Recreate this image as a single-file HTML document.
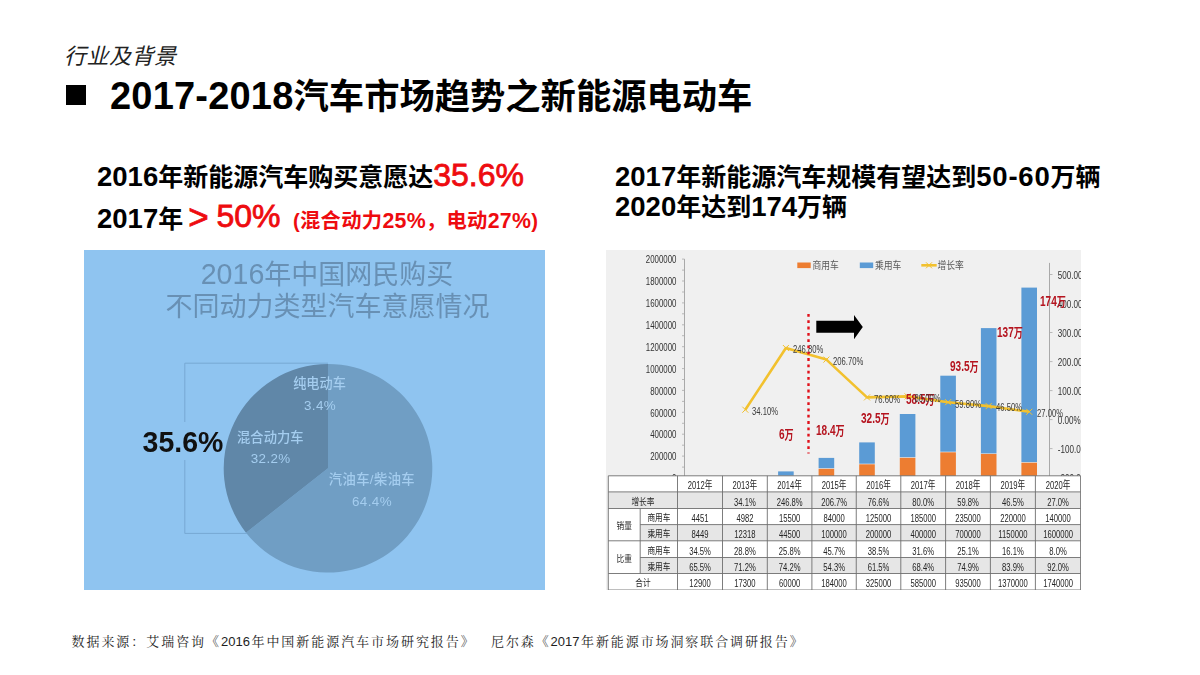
<!DOCTYPE html>
<html lang="zh-CN">
<head>
<meta charset="utf-8">
<title>2017-2018汽车市场趋势之新能源电动车</title>
<style>
html,body{margin:0;padding:0;background:#fff;}
body{width:1200px;height:675px;position:relative;overflow:hidden;font-family:"Liberation Sans","Noto Sans CJK SC",sans-serif;color:#000;}
.abs{position:absolute;white-space:nowrap;}
#sec{left:64px;top:42px;font-size:22px;font-style:italic;color:#222;line-height:30px;letter-spacing:0.5px;}
#bullet{left:66px;top:85px;width:20px;height:20px;background:#000;}
#title{left:110px;top:73px;font-size:35.3px;font-weight:bold;line-height:46px;}
#title .d{font-size:38px;letter-spacing:0.2px;}
.sub{font-size:25px;font-weight:bold;line-height:30px;}
.sub .d{font-size:27.5px;letter-spacing:0;}
.pr{font-size:20.3px;margin-left:5.5px;letter-spacing:0.3px;}
.pr .q{font-size:21.3px;}
.red{color:#ee0b0f;}
.big{font-size:32px;font-weight:normal;-webkit-text-stroke:0.8px #ee0b0f;}
#s1{left:97px;top:160px;}
#s2{left:97px;top:201.5px;}
#s3{left:615px;top:162px;}
#s4{left:615px;top:192px;}
.src{font-size:13px;color:#1e1e1e;font-family:"Liberation Sans","Noto Serif CJK SC",serif;letter-spacing:1.5px;}
.src .n{letter-spacing:0;margin-right:1.5px;}
#src{left:71.5px;top:631px;letter-spacing:1.95px;}
#src2{left:491px;top:631px;letter-spacing:1.9px;}
svg text{white-space:pre;}
#pie{left:84px;top:250px;filter:blur(0.35px);}
#chart{left:606px;top:250px;filter:blur(0.35px);}
</style>
</head>
<body>
<div class="abs" id="sec">行业及背景</div>
<div class="abs" id="bullet"></div>
<div class="abs" id="title"><span class="d">2017-2018</span>汽车市场趋势之新能源电动车</div>
<div class="abs sub" id="s1"><span class="d">2016</span>年新能源汽车购买意愿达<span class="red big">35.6%</span></div>
<div class="abs sub" id="s2"><span class="d">2017</span>年 <span class="red big" style="position:relative;top:-1px"><span style="font-size:35px;vertical-align:-2px;margin-left:-2px;margin-right:-1px">&gt;</span> 50%</span> <span class="red pr">(混合动力<span class="q">25%</span>，电动<span class="q">27%</span>)</span></div>
<div class="abs sub" id="s3"><span class="d">2017</span>年新能源汽车规模有望达到<span class="d" style="letter-spacing:0.8px">50-60</span>万辆</div>
<div class="abs sub" id="s4"><span class="d">2020</span>年达到<span class="d">174</span>万辆</div>

<svg class="abs" id="pie" width="461" height="340" viewBox="84 250 461 340">
<rect x="84" y="250" width="461" height="340" fill="#8fc4f0"/>
<text x="327" y="284" text-anchor="middle" font-size="27" fill="#6890b4" font-family="Liberation Sans, Noto Sans CJK SC, sans-serif"><tspan font-size="28.6">2016</tspan>年中国网民购买</text>
<text x="327.6" y="316" text-anchor="middle" font-size="27" fill="#6890b4" font-family="Liberation Sans, Noto Sans CJK SC, sans-serif">不同动力类型汽车意愿情况</text>
<path d="M328 468.3L328 364.0A104.3 104.3 0 1 1 245.99 532.74Z" fill="#709ec4"/>
<path d="M328 468.3L245.99 532.74A104.3 104.3 0 0 1 328 364.0Z" fill="#6087a8"/>
<path d="M247 533.4H184.8V363.2H328" fill="none" stroke="#77a8d3" stroke-width="1"/>
<rect x="140" y="422" width="84" height="38" fill="#8fc4f0"/>
<text transform="translate(142.6 452.2) scale(0.95 1)" font-size="30" font-weight="bold" fill="#111" font-family="Liberation Sans, Noto Sans CJK SC, sans-serif">35.6%</text>
<text x="319.5" y="388.0" text-anchor="middle" font-size="13.2" letter-spacing="0" font-weight="500" fill="#a4cdef" font-family="Liberation Sans, Noto Sans CJK SC, sans-serif">纯电动车</text>
<text x="320" y="409.8" text-anchor="middle" font-size="13.4" letter-spacing="0.4" font-weight="500" fill="#a4cdef" font-family="Liberation Sans, Noto Sans CJK SC, sans-serif">3.4%</text>
<text x="270.3" y="442.2" text-anchor="middle" font-size="13.3" letter-spacing="0" font-weight="500" fill="#a4cdef" font-family="Liberation Sans, Noto Sans CJK SC, sans-serif">混合动力车</text>
<text x="270.7" y="463.4" text-anchor="middle" font-size="13.4" letter-spacing="0.4" font-weight="500" fill="#a4cdef" font-family="Liberation Sans, Noto Sans CJK SC, sans-serif">32.2%</text>
<text x="371.9" y="484.1" text-anchor="middle" font-size="13.3" letter-spacing="0.4" font-weight="500" fill="#a4cdef" font-family="Liberation Sans, Noto Sans CJK SC, sans-serif">汽油车/柴油车</text>
<text x="372" y="505.8" text-anchor="middle" font-size="13.4" letter-spacing="0.4" font-weight="500" fill="#a4cdef" font-family="Liberation Sans, Noto Sans CJK SC, sans-serif">64.4%</text>
</svg>

<svg class="abs" id="chart" width="475" height="340" viewBox="606 250 475 340">
<rect x="606" y="250" width="475" height="340" fill="#f0f0f0"/>
<line x1="684.5" y1="259.1" x2="684.5" y2="478.0" stroke="#a9a9a9" stroke-width="1"/>
<line x1="682.0" y1="478.0" x2="684.5" y2="478.0" stroke="#a9a9a9" stroke-width="0.8"/>
<line x1="682.0" y1="467.1" x2="684.5" y2="467.1" stroke="#a9a9a9" stroke-width="0.8"/>
<line x1="682.0" y1="456.1" x2="684.5" y2="456.1" stroke="#a9a9a9" stroke-width="0.8"/>
<line x1="682.0" y1="445.2" x2="684.5" y2="445.2" stroke="#a9a9a9" stroke-width="0.8"/>
<line x1="682.0" y1="434.2" x2="684.5" y2="434.2" stroke="#a9a9a9" stroke-width="0.8"/>
<line x1="682.0" y1="423.3" x2="684.5" y2="423.3" stroke="#a9a9a9" stroke-width="0.8"/>
<line x1="682.0" y1="412.3" x2="684.5" y2="412.3" stroke="#a9a9a9" stroke-width="0.8"/>
<line x1="682.0" y1="401.4" x2="684.5" y2="401.4" stroke="#a9a9a9" stroke-width="0.8"/>
<line x1="682.0" y1="390.4" x2="684.5" y2="390.4" stroke="#a9a9a9" stroke-width="0.8"/>
<line x1="682.0" y1="379.5" x2="684.5" y2="379.5" stroke="#a9a9a9" stroke-width="0.8"/>
<line x1="682.0" y1="368.6" x2="684.5" y2="368.6" stroke="#a9a9a9" stroke-width="0.8"/>
<line x1="682.0" y1="357.6" x2="684.5" y2="357.6" stroke="#a9a9a9" stroke-width="0.8"/>
<line x1="682.0" y1="346.7" x2="684.5" y2="346.7" stroke="#a9a9a9" stroke-width="0.8"/>
<line x1="682.0" y1="335.7" x2="684.5" y2="335.7" stroke="#a9a9a9" stroke-width="0.8"/>
<line x1="682.0" y1="324.8" x2="684.5" y2="324.8" stroke="#a9a9a9" stroke-width="0.8"/>
<line x1="682.0" y1="313.8" x2="684.5" y2="313.8" stroke="#a9a9a9" stroke-width="0.8"/>
<line x1="682.0" y1="302.9" x2="684.5" y2="302.9" stroke="#a9a9a9" stroke-width="0.8"/>
<line x1="682.0" y1="292.0" x2="684.5" y2="292.0" stroke="#a9a9a9" stroke-width="0.8"/>
<line x1="682.0" y1="281.0" x2="684.5" y2="281.0" stroke="#a9a9a9" stroke-width="0.8"/>
<line x1="682.0" y1="270.1" x2="684.5" y2="270.1" stroke="#a9a9a9" stroke-width="0.8"/>
<line x1="682.0" y1="259.1" x2="684.5" y2="259.1" stroke="#a9a9a9" stroke-width="0.8"/>
<text transform="translate(676.5 482.2) scale(0.68 1)" text-anchor="end" font-size="11.6" fill="#333" font-weight="normal" font-family="Liberation Sans, Noto Sans CJK SC, sans-serif" >0</text>
<text transform="translate(676.5 460.3) scale(0.68 1)" text-anchor="end" font-size="11.6" fill="#333" font-weight="normal" font-family="Liberation Sans, Noto Sans CJK SC, sans-serif" >200000</text>
<text transform="translate(676.5 438.4) scale(0.68 1)" text-anchor="end" font-size="11.6" fill="#333" font-weight="normal" font-family="Liberation Sans, Noto Sans CJK SC, sans-serif" >400000</text>
<text transform="translate(676.5 416.5) scale(0.68 1)" text-anchor="end" font-size="11.6" fill="#333" font-weight="normal" font-family="Liberation Sans, Noto Sans CJK SC, sans-serif" >600000</text>
<text transform="translate(676.5 394.6) scale(0.68 1)" text-anchor="end" font-size="11.6" fill="#333" font-weight="normal" font-family="Liberation Sans, Noto Sans CJK SC, sans-serif" >800000</text>
<text transform="translate(676.5 372.7) scale(0.68 1)" text-anchor="end" font-size="11.6" fill="#333" font-weight="normal" font-family="Liberation Sans, Noto Sans CJK SC, sans-serif" >1000000</text>
<text transform="translate(676.5 350.8) scale(0.68 1)" text-anchor="end" font-size="11.6" fill="#333" font-weight="normal" font-family="Liberation Sans, Noto Sans CJK SC, sans-serif" >1200000</text>
<text transform="translate(676.5 328.9) scale(0.68 1)" text-anchor="end" font-size="11.6" fill="#333" font-weight="normal" font-family="Liberation Sans, Noto Sans CJK SC, sans-serif" >1400000</text>
<text transform="translate(676.5 307.0) scale(0.68 1)" text-anchor="end" font-size="11.6" fill="#333" font-weight="normal" font-family="Liberation Sans, Noto Sans CJK SC, sans-serif" >1600000</text>
<text transform="translate(676.5 285.2) scale(0.68 1)" text-anchor="end" font-size="11.6" fill="#333" font-weight="normal" font-family="Liberation Sans, Noto Sans CJK SC, sans-serif" >1800000</text>
<text transform="translate(676.5 263.3) scale(0.68 1)" text-anchor="end" font-size="11.6" fill="#333" font-weight="normal" font-family="Liberation Sans, Noto Sans CJK SC, sans-serif" >2000000</text>
<line x1="1049.5" y1="262.9" x2="1049.5" y2="477.6" stroke="#a9a9a9" stroke-width="1"/>
<line x1="1049.5" y1="477.6" x2="1052.5" y2="477.6" stroke="#a9a9a9" stroke-width="0.8"/>
<text transform="translate(1057.8 481.8) scale(0.7 1)" text-anchor="start" font-size="11.6" fill="#333" font-weight="normal" font-family="Liberation Sans, Noto Sans CJK SC, sans-serif" >-200.00%</text>
<line x1="1049.5" y1="448.6" x2="1052.5" y2="448.6" stroke="#a9a9a9" stroke-width="0.8"/>
<text transform="translate(1057.8 452.8) scale(0.7 1)" text-anchor="start" font-size="11.6" fill="#333" font-weight="normal" font-family="Liberation Sans, Noto Sans CJK SC, sans-serif" >-100.00%</text>
<line x1="1049.5" y1="419.6" x2="1052.5" y2="419.6" stroke="#a9a9a9" stroke-width="0.8"/>
<text transform="translate(1057.8 423.8) scale(0.7 1)" text-anchor="start" font-size="11.6" fill="#333" font-weight="normal" font-family="Liberation Sans, Noto Sans CJK SC, sans-serif" >0.00%</text>
<line x1="1049.5" y1="390.6" x2="1052.5" y2="390.6" stroke="#a9a9a9" stroke-width="0.8"/>
<text transform="translate(1057.8 394.7) scale(0.7 1)" text-anchor="start" font-size="11.6" fill="#333" font-weight="normal" font-family="Liberation Sans, Noto Sans CJK SC, sans-serif" >100.00%</text>
<line x1="1049.5" y1="361.6" x2="1052.5" y2="361.6" stroke="#a9a9a9" stroke-width="0.8"/>
<text transform="translate(1057.8 365.7) scale(0.7 1)" text-anchor="start" font-size="11.6" fill="#333" font-weight="normal" font-family="Liberation Sans, Noto Sans CJK SC, sans-serif" >200.00%</text>
<line x1="1049.5" y1="332.5" x2="1052.5" y2="332.5" stroke="#a9a9a9" stroke-width="0.8"/>
<text transform="translate(1057.8 336.7) scale(0.7 1)" text-anchor="start" font-size="11.6" fill="#333" font-weight="normal" font-family="Liberation Sans, Noto Sans CJK SC, sans-serif" >300.00%</text>
<line x1="1049.5" y1="303.5" x2="1052.5" y2="303.5" stroke="#a9a9a9" stroke-width="0.8"/>
<text transform="translate(1057.8 307.7) scale(0.7 1)" text-anchor="start" font-size="11.6" fill="#333" font-weight="normal" font-family="Liberation Sans, Noto Sans CJK SC, sans-serif" >400.00%</text>
<line x1="1049.5" y1="274.5" x2="1052.5" y2="274.5" stroke="#a9a9a9" stroke-width="0.8"/>
<text transform="translate(1057.8 278.7) scale(0.7 1)" text-anchor="start" font-size="11.6" fill="#333" font-weight="normal" font-family="Liberation Sans, Noto Sans CJK SC, sans-serif" >500.00%</text>
<rect x="697.0" y="477.5" width="15.6" height="0.5" fill="#ed7d31"/>
<rect x="697.0" y="476.6" width="15.6" height="0.3" fill="#5b9bd5"/>
<rect x="737.5" y="477.5" width="15.6" height="0.5" fill="#ed7d31"/>
<rect x="737.5" y="476.1" width="15.6" height="0.7" fill="#5b9bd5"/>
<rect x="778.1" y="476.3" width="15.6" height="1.7" fill="#ed7d31"/>
<rect x="778.1" y="471.4" width="15.6" height="4.3" fill="#5b9bd5"/>
<rect x="818.6" y="468.8" width="15.6" height="9.2" fill="#ed7d31"/>
<rect x="818.6" y="457.9" width="15.6" height="10.3" fill="#5b9bd5"/>
<rect x="859.2" y="464.3" width="15.6" height="13.7" fill="#ed7d31"/>
<rect x="859.2" y="442.4" width="15.6" height="21.3" fill="#5b9bd5"/>
<rect x="899.8" y="457.8" width="15.6" height="20.2" fill="#ed7d31"/>
<rect x="899.8" y="414.0" width="15.6" height="43.2" fill="#5b9bd5"/>
<rect x="940.3" y="452.3" width="15.6" height="25.7" fill="#ed7d31"/>
<rect x="940.3" y="375.7" width="15.6" height="76.0" fill="#5b9bd5"/>
<rect x="980.9" y="453.9" width="15.6" height="24.1" fill="#ed7d31"/>
<rect x="980.9" y="328.1" width="15.6" height="125.3" fill="#5b9bd5"/>
<rect x="1021.4" y="462.7" width="15.6" height="15.3" fill="#ed7d31"/>
<rect x="1021.4" y="287.6" width="15.6" height="174.5" fill="#5b9bd5"/>
<polyline points="745.3,409.7 785.9,348.0 826.4,359.6 867.0,397.4 907.6,396.4 948.1,402.2 988.7,406.1 1029.2,411.8" fill="none" stroke="#f2c12e" stroke-width="2.6" stroke-linejoin="round"/>
<path d="M742.3 406.7L748.3 412.7M742.3 412.7L748.3 406.7" stroke="#f2c12e" stroke-width="1"/>
<path d="M782.9 345.0L788.9 351.0M782.9 351.0L788.9 345.0" stroke="#f2c12e" stroke-width="1"/>
<path d="M823.4 356.6L829.4 362.6M823.4 362.6L829.4 356.6" stroke="#f2c12e" stroke-width="1"/>
<path d="M864.0 394.4L870.0 400.4M864.0 400.4L870.0 394.4" stroke="#f2c12e" stroke-width="1"/>
<path d="M904.6 393.4L910.6 399.4M904.6 399.4L910.6 393.4" stroke="#f2c12e" stroke-width="1"/>
<path d="M945.1 399.2L951.1 405.2M945.1 405.2L951.1 399.2" stroke="#f2c12e" stroke-width="1"/>
<path d="M985.7 403.1L991.7 409.1M985.7 409.1L991.7 403.1" stroke="#f2c12e" stroke-width="1"/>
<path d="M1026.2 408.8L1032.2 414.8M1026.2 414.8L1032.2 408.8" stroke="#f2c12e" stroke-width="1"/>
<text transform="translate(752.0 414.9) scale(0.66 1)" text-anchor="start" font-size="11.6" fill="#3a3a3a" font-weight="normal" font-family="Liberation Sans, Noto Sans CJK SC, sans-serif" >34.10%</text>
<text transform="translate(793.0 353.2) scale(0.66 1)" text-anchor="start" font-size="11.6" fill="#3a3a3a" font-weight="normal" font-family="Liberation Sans, Noto Sans CJK SC, sans-serif" >246.80%</text>
<text transform="translate(833.0 365.2) scale(0.66 1)" text-anchor="start" font-size="11.6" fill="#3a3a3a" font-weight="normal" font-family="Liberation Sans, Noto Sans CJK SC, sans-serif" >206.70%</text>
<text transform="translate(874.0 402.6) scale(0.66 1)" text-anchor="start" font-size="11.6" fill="#3a3a3a" font-weight="normal" font-family="Liberation Sans, Noto Sans CJK SC, sans-serif" >76.60%</text>
<text transform="translate(955.0 407.5) scale(0.66 1)" text-anchor="start" font-size="11.6" fill="#3a3a3a" font-weight="normal" font-family="Liberation Sans, Noto Sans CJK SC, sans-serif" >59.80%</text>
<text transform="translate(996.0 411.0) scale(0.66 1)" text-anchor="start" font-size="11.6" fill="#3a3a3a" font-weight="normal" font-family="Liberation Sans, Noto Sans CJK SC, sans-serif" >46.50%</text>
<text transform="translate(1037.0 416.8) scale(0.66 1)" text-anchor="start" font-size="11.6" fill="#3a3a3a" font-weight="normal" font-family="Liberation Sans, Noto Sans CJK SC, sans-serif" >27.00%</text>
<text transform="translate(779.0 439.4) scale(0.72 1)" text-anchor="start" font-size="14" fill="#b5141f" font-weight="bold" font-family="Liberation Sans, Noto Sans CJK SC, sans-serif" >6<tspan font-size="12.6">万</tspan></text>
<text transform="translate(816.0 435.4) scale(0.72 1)" text-anchor="start" font-size="14" fill="#b5141f" font-weight="bold" font-family="Liberation Sans, Noto Sans CJK SC, sans-serif" >18.4<tspan font-size="12.6">万</tspan></text>
<text transform="translate(861.0 422.8) scale(0.72 1)" text-anchor="start" font-size="14" fill="#b5141f" font-weight="bold" font-family="Liberation Sans, Noto Sans CJK SC, sans-serif" >32.5<tspan font-size="12.6">万</tspan></text>
<text transform="translate(906.0 403.7) scale(0.72 1)" text-anchor="start" font-size="14" fill="#b5141f" font-weight="bold" font-family="Liberation Sans, Noto Sans CJK SC, sans-serif" >58.5<tspan font-size="12.6">万</tspan></text>
<text transform="translate(950.0 371.0) scale(0.72 1)" text-anchor="start" font-size="14" fill="#b5141f" font-weight="bold" font-family="Liberation Sans, Noto Sans CJK SC, sans-serif" >93.5<tspan font-size="12.6">万</tspan></text>
<text transform="translate(997.0 336.5) scale(0.72 1)" text-anchor="start" font-size="14" fill="#b5141f" font-weight="bold" font-family="Liberation Sans, Noto Sans CJK SC, sans-serif" >137<tspan font-size="12.6">万</tspan></text>
<text transform="translate(1040.0 306.4) scale(0.72 1)" text-anchor="start" font-size="14" fill="#b5141f" font-weight="bold" font-family="Liberation Sans, Noto Sans CJK SC, sans-serif" >174<tspan font-size="12.6">万</tspan></text>
<text transform="translate(914.5 401.8) scale(0.66 1)" text-anchor="start" font-size="11.6" fill="#3a3a3a" font-weight="normal" font-family="Liberation Sans, Noto Sans CJK SC, sans-serif" >80.00%</text>
<rect x="797.3" y="262.5" width="13.4" height="5.6" fill="#ed7d31"/>
<rect x="859.8" y="262.5" width="13.4" height="5.6" fill="#5b9bd5"/>
<line x1="921.3" y1="265.3" x2="936.7" y2="265.3" stroke="#f2c12e" stroke-width="2.6"/>
<path d="M926 262.3L932 268.3M926 268.3L932 262.3" stroke="#f2c12e" stroke-width="1"/>
<text transform="translate(812.5 269.3) scale(0.88 1)" font-size="10" fill="#595959" font-family="Liberation Sans, Noto Sans CJK SC, sans-serif">商用车</text>
<text transform="translate(875 269.3) scale(0.88 1)" font-size="10" fill="#595959" font-family="Liberation Sans, Noto Sans CJK SC, sans-serif">乘用车</text>
<text transform="translate(937.5 269.3) scale(0.88 1)" font-size="10" fill="#595959" font-family="Liberation Sans, Noto Sans CJK SC, sans-serif">增长率</text>
<line x1="808.5" y1="314" x2="808.5" y2="453.5" stroke="#e0101a" stroke-width="2.4" stroke-dasharray="2.8 3.5"/>
<path d="M816.3 320.8H854V315L862.8 327L854 339.2V332.8H816.3Z" fill="#000"/>
<rect x="608.3" y="475.8" width="472.29999999999995" height="114.19999999999999" fill="#ffffff"/>
<rect x="608.3" y="491.9" width="472.29999999999995" height="16.600000000000023" fill="#e6e6e6"/>
<rect x="640.2" y="524.6" width="440.39999999999986" height="16.199999999999932" fill="#e6e6e6"/>
<rect x="640.2" y="557.5" width="440.39999999999986" height="16.0" fill="#e6e6e6"/>
<line x1="608.3" y1="475.8" x2="1080.6" y2="475.8" stroke="#6e6e6e" stroke-width="0.9"/>
<line x1="608.3" y1="491.9" x2="1080.6" y2="491.9" stroke="#6e6e6e" stroke-width="0.9"/>
<line x1="608.3" y1="508.5" x2="1080.6" y2="508.5" stroke="#6e6e6e" stroke-width="0.9"/>
<line x1="640.2" y1="524.6" x2="1080.6" y2="524.6" stroke="#6e6e6e" stroke-width="0.9"/>
<line x1="608.3" y1="540.8" x2="1080.6" y2="540.8" stroke="#6e6e6e" stroke-width="0.9"/>
<line x1="640.2" y1="557.5" x2="1080.6" y2="557.5" stroke="#6e6e6e" stroke-width="0.9"/>
<line x1="608.3" y1="573.5" x2="1080.6" y2="573.5" stroke="#6e6e6e" stroke-width="0.9"/>
<line x1="608.3" y1="590.0" x2="1080.6" y2="590.0" stroke="#6e6e6e" stroke-width="0.9"/>
<line x1="608.3" y1="475.8" x2="608.3" y2="590.0" stroke="#6e6e6e" stroke-width="0.9"/>
<line x1="677.5" y1="475.8" x2="677.5" y2="590.0" stroke="#6e6e6e" stroke-width="0.9"/>
<line x1="722.5" y1="475.8" x2="722.5" y2="590.0" stroke="#6e6e6e" stroke-width="0.9"/>
<line x1="767.3" y1="475.8" x2="767.3" y2="590.0" stroke="#6e6e6e" stroke-width="0.9"/>
<line x1="811.9" y1="475.8" x2="811.9" y2="590.0" stroke="#6e6e6e" stroke-width="0.9"/>
<line x1="856.25" y1="475.8" x2="856.25" y2="590.0" stroke="#6e6e6e" stroke-width="0.9"/>
<line x1="900.8" y1="475.8" x2="900.8" y2="590.0" stroke="#6e6e6e" stroke-width="0.9"/>
<line x1="945.6" y1="475.8" x2="945.6" y2="590.0" stroke="#6e6e6e" stroke-width="0.9"/>
<line x1="990.4" y1="475.8" x2="990.4" y2="590.0" stroke="#6e6e6e" stroke-width="0.9"/>
<line x1="1035.4" y1="475.8" x2="1035.4" y2="590.0" stroke="#6e6e6e" stroke-width="0.9"/>
<line x1="1080.6" y1="475.8" x2="1080.6" y2="590.0" stroke="#6e6e6e" stroke-width="0.9"/>
<line x1="640.2" y1="508.5" x2="640.2" y2="573.5" stroke="#6e6e6e" stroke-width="0.9"/>
<text transform="translate(700.0 489.2) scale(0.66 1)" text-anchor="middle" font-size="11.6" fill="#262626" font-weight="normal" font-family="Liberation Sans, Noto Sans CJK SC, sans-serif" >2012年</text>
<text transform="translate(744.9 489.2) scale(0.66 1)" text-anchor="middle" font-size="11.6" fill="#262626" font-weight="normal" font-family="Liberation Sans, Noto Sans CJK SC, sans-serif" >2013年</text>
<text transform="translate(789.6 489.2) scale(0.66 1)" text-anchor="middle" font-size="11.6" fill="#262626" font-weight="normal" font-family="Liberation Sans, Noto Sans CJK SC, sans-serif" >2014年</text>
<text transform="translate(834.1 489.2) scale(0.66 1)" text-anchor="middle" font-size="11.6" fill="#262626" font-weight="normal" font-family="Liberation Sans, Noto Sans CJK SC, sans-serif" >2015年</text>
<text transform="translate(878.5 489.2) scale(0.66 1)" text-anchor="middle" font-size="11.6" fill="#262626" font-weight="normal" font-family="Liberation Sans, Noto Sans CJK SC, sans-serif" >2016年</text>
<text transform="translate(923.2 489.2) scale(0.66 1)" text-anchor="middle" font-size="11.6" fill="#262626" font-weight="normal" font-family="Liberation Sans, Noto Sans CJK SC, sans-serif" >2017年</text>
<text transform="translate(968.0 489.2) scale(0.66 1)" text-anchor="middle" font-size="11.6" fill="#262626" font-weight="normal" font-family="Liberation Sans, Noto Sans CJK SC, sans-serif" >2018年</text>
<text transform="translate(1012.9 489.2) scale(0.66 1)" text-anchor="middle" font-size="11.6" fill="#262626" font-weight="normal" font-family="Liberation Sans, Noto Sans CJK SC, sans-serif" >2019年</text>
<text transform="translate(1058.0 489.2) scale(0.66 1)" text-anchor="middle" font-size="11.6" fill="#262626" font-weight="normal" font-family="Liberation Sans, Noto Sans CJK SC, sans-serif" >2020年</text>
<text transform="translate(744.9 505.6) scale(0.66 1)" text-anchor="middle" font-size="11.6" fill="#262626" font-weight="normal" font-family="Liberation Sans, Noto Sans CJK SC, sans-serif" >34.1%</text>
<text transform="translate(789.6 505.6) scale(0.66 1)" text-anchor="middle" font-size="11.6" fill="#262626" font-weight="normal" font-family="Liberation Sans, Noto Sans CJK SC, sans-serif" >246.8%</text>
<text transform="translate(834.1 505.6) scale(0.66 1)" text-anchor="middle" font-size="11.6" fill="#262626" font-weight="normal" font-family="Liberation Sans, Noto Sans CJK SC, sans-serif" >206.7%</text>
<text transform="translate(878.5 505.6) scale(0.66 1)" text-anchor="middle" font-size="11.6" fill="#262626" font-weight="normal" font-family="Liberation Sans, Noto Sans CJK SC, sans-serif" >76.6%</text>
<text transform="translate(923.2 505.6) scale(0.66 1)" text-anchor="middle" font-size="11.6" fill="#262626" font-weight="normal" font-family="Liberation Sans, Noto Sans CJK SC, sans-serif" >80.0%</text>
<text transform="translate(968.0 505.6) scale(0.66 1)" text-anchor="middle" font-size="11.6" fill="#262626" font-weight="normal" font-family="Liberation Sans, Noto Sans CJK SC, sans-serif" >59.8%</text>
<text transform="translate(1012.9 505.6) scale(0.66 1)" text-anchor="middle" font-size="11.6" fill="#262626" font-weight="normal" font-family="Liberation Sans, Noto Sans CJK SC, sans-serif" >46.5%</text>
<text transform="translate(1058.0 505.6) scale(0.66 1)" text-anchor="middle" font-size="11.6" fill="#262626" font-weight="normal" font-family="Liberation Sans, Noto Sans CJK SC, sans-serif" >27.0%</text>
<text transform="translate(700.0 521.9) scale(0.66 1)" text-anchor="middle" font-size="11.6" fill="#262626" font-weight="normal" font-family="Liberation Sans, Noto Sans CJK SC, sans-serif" >4451</text>
<text transform="translate(744.9 521.9) scale(0.66 1)" text-anchor="middle" font-size="11.6" fill="#262626" font-weight="normal" font-family="Liberation Sans, Noto Sans CJK SC, sans-serif" >4982</text>
<text transform="translate(789.6 521.9) scale(0.66 1)" text-anchor="middle" font-size="11.6" fill="#262626" font-weight="normal" font-family="Liberation Sans, Noto Sans CJK SC, sans-serif" >15500</text>
<text transform="translate(834.1 521.9) scale(0.66 1)" text-anchor="middle" font-size="11.6" fill="#262626" font-weight="normal" font-family="Liberation Sans, Noto Sans CJK SC, sans-serif" >84000</text>
<text transform="translate(878.5 521.9) scale(0.66 1)" text-anchor="middle" font-size="11.6" fill="#262626" font-weight="normal" font-family="Liberation Sans, Noto Sans CJK SC, sans-serif" >125000</text>
<text transform="translate(923.2 521.9) scale(0.66 1)" text-anchor="middle" font-size="11.6" fill="#262626" font-weight="normal" font-family="Liberation Sans, Noto Sans CJK SC, sans-serif" >185000</text>
<text transform="translate(968.0 521.9) scale(0.66 1)" text-anchor="middle" font-size="11.6" fill="#262626" font-weight="normal" font-family="Liberation Sans, Noto Sans CJK SC, sans-serif" >235000</text>
<text transform="translate(1012.9 521.9) scale(0.66 1)" text-anchor="middle" font-size="11.6" fill="#262626" font-weight="normal" font-family="Liberation Sans, Noto Sans CJK SC, sans-serif" >220000</text>
<text transform="translate(1058.0 521.9) scale(0.66 1)" text-anchor="middle" font-size="11.6" fill="#262626" font-weight="normal" font-family="Liberation Sans, Noto Sans CJK SC, sans-serif" >140000</text>
<text transform="translate(700.0 538.1) scale(0.66 1)" text-anchor="middle" font-size="11.6" fill="#262626" font-weight="normal" font-family="Liberation Sans, Noto Sans CJK SC, sans-serif" >8449</text>
<text transform="translate(744.9 538.1) scale(0.66 1)" text-anchor="middle" font-size="11.6" fill="#262626" font-weight="normal" font-family="Liberation Sans, Noto Sans CJK SC, sans-serif" >12318</text>
<text transform="translate(789.6 538.1) scale(0.66 1)" text-anchor="middle" font-size="11.6" fill="#262626" font-weight="normal" font-family="Liberation Sans, Noto Sans CJK SC, sans-serif" >44500</text>
<text transform="translate(834.1 538.1) scale(0.66 1)" text-anchor="middle" font-size="11.6" fill="#262626" font-weight="normal" font-family="Liberation Sans, Noto Sans CJK SC, sans-serif" >100000</text>
<text transform="translate(878.5 538.1) scale(0.66 1)" text-anchor="middle" font-size="11.6" fill="#262626" font-weight="normal" font-family="Liberation Sans, Noto Sans CJK SC, sans-serif" >200000</text>
<text transform="translate(923.2 538.1) scale(0.66 1)" text-anchor="middle" font-size="11.6" fill="#262626" font-weight="normal" font-family="Liberation Sans, Noto Sans CJK SC, sans-serif" >400000</text>
<text transform="translate(968.0 538.1) scale(0.66 1)" text-anchor="middle" font-size="11.6" fill="#262626" font-weight="normal" font-family="Liberation Sans, Noto Sans CJK SC, sans-serif" >700000</text>
<text transform="translate(1012.9 538.1) scale(0.66 1)" text-anchor="middle" font-size="11.6" fill="#262626" font-weight="normal" font-family="Liberation Sans, Noto Sans CJK SC, sans-serif" >1150000</text>
<text transform="translate(1058.0 538.1) scale(0.66 1)" text-anchor="middle" font-size="11.6" fill="#262626" font-weight="normal" font-family="Liberation Sans, Noto Sans CJK SC, sans-serif" >1600000</text>
<text transform="translate(700.0 554.5) scale(0.66 1)" text-anchor="middle" font-size="11.6" fill="#262626" font-weight="normal" font-family="Liberation Sans, Noto Sans CJK SC, sans-serif" >34.5%</text>
<text transform="translate(744.9 554.5) scale(0.66 1)" text-anchor="middle" font-size="11.6" fill="#262626" font-weight="normal" font-family="Liberation Sans, Noto Sans CJK SC, sans-serif" >28.8%</text>
<text transform="translate(789.6 554.5) scale(0.66 1)" text-anchor="middle" font-size="11.6" fill="#262626" font-weight="normal" font-family="Liberation Sans, Noto Sans CJK SC, sans-serif" >25.8%</text>
<text transform="translate(834.1 554.5) scale(0.66 1)" text-anchor="middle" font-size="11.6" fill="#262626" font-weight="normal" font-family="Liberation Sans, Noto Sans CJK SC, sans-serif" >45.7%</text>
<text transform="translate(878.5 554.5) scale(0.66 1)" text-anchor="middle" font-size="11.6" fill="#262626" font-weight="normal" font-family="Liberation Sans, Noto Sans CJK SC, sans-serif" >38.5%</text>
<text transform="translate(923.2 554.5) scale(0.66 1)" text-anchor="middle" font-size="11.6" fill="#262626" font-weight="normal" font-family="Liberation Sans, Noto Sans CJK SC, sans-serif" >31.6%</text>
<text transform="translate(968.0 554.5) scale(0.66 1)" text-anchor="middle" font-size="11.6" fill="#262626" font-weight="normal" font-family="Liberation Sans, Noto Sans CJK SC, sans-serif" >25.1%</text>
<text transform="translate(1012.9 554.5) scale(0.66 1)" text-anchor="middle" font-size="11.6" fill="#262626" font-weight="normal" font-family="Liberation Sans, Noto Sans CJK SC, sans-serif" >16.1%</text>
<text transform="translate(1058.0 554.5) scale(0.66 1)" text-anchor="middle" font-size="11.6" fill="#262626" font-weight="normal" font-family="Liberation Sans, Noto Sans CJK SC, sans-serif" >8.0%</text>
<text transform="translate(700.0 570.9) scale(0.66 1)" text-anchor="middle" font-size="11.6" fill="#262626" font-weight="normal" font-family="Liberation Sans, Noto Sans CJK SC, sans-serif" >65.5%</text>
<text transform="translate(744.9 570.9) scale(0.66 1)" text-anchor="middle" font-size="11.6" fill="#262626" font-weight="normal" font-family="Liberation Sans, Noto Sans CJK SC, sans-serif" >71.2%</text>
<text transform="translate(789.6 570.9) scale(0.66 1)" text-anchor="middle" font-size="11.6" fill="#262626" font-weight="normal" font-family="Liberation Sans, Noto Sans CJK SC, sans-serif" >74.2%</text>
<text transform="translate(834.1 570.9) scale(0.66 1)" text-anchor="middle" font-size="11.6" fill="#262626" font-weight="normal" font-family="Liberation Sans, Noto Sans CJK SC, sans-serif" >54.3%</text>
<text transform="translate(878.5 570.9) scale(0.66 1)" text-anchor="middle" font-size="11.6" fill="#262626" font-weight="normal" font-family="Liberation Sans, Noto Sans CJK SC, sans-serif" >61.5%</text>
<text transform="translate(923.2 570.9) scale(0.66 1)" text-anchor="middle" font-size="11.6" fill="#262626" font-weight="normal" font-family="Liberation Sans, Noto Sans CJK SC, sans-serif" >68.4%</text>
<text transform="translate(968.0 570.9) scale(0.66 1)" text-anchor="middle" font-size="11.6" fill="#262626" font-weight="normal" font-family="Liberation Sans, Noto Sans CJK SC, sans-serif" >74.9%</text>
<text transform="translate(1012.9 570.9) scale(0.66 1)" text-anchor="middle" font-size="11.6" fill="#262626" font-weight="normal" font-family="Liberation Sans, Noto Sans CJK SC, sans-serif" >83.9%</text>
<text transform="translate(1058.0 570.9) scale(0.66 1)" text-anchor="middle" font-size="11.6" fill="#262626" font-weight="normal" font-family="Liberation Sans, Noto Sans CJK SC, sans-serif" >92.0%</text>
<text transform="translate(700.0 587.1) scale(0.66 1)" text-anchor="middle" font-size="11.6" fill="#262626" font-weight="normal" font-family="Liberation Sans, Noto Sans CJK SC, sans-serif" >12900</text>
<text transform="translate(744.9 587.1) scale(0.66 1)" text-anchor="middle" font-size="11.6" fill="#262626" font-weight="normal" font-family="Liberation Sans, Noto Sans CJK SC, sans-serif" >17300</text>
<text transform="translate(789.6 587.1) scale(0.66 1)" text-anchor="middle" font-size="11.6" fill="#262626" font-weight="normal" font-family="Liberation Sans, Noto Sans CJK SC, sans-serif" >60000</text>
<text transform="translate(834.1 587.1) scale(0.66 1)" text-anchor="middle" font-size="11.6" fill="#262626" font-weight="normal" font-family="Liberation Sans, Noto Sans CJK SC, sans-serif" >184000</text>
<text transform="translate(878.5 587.1) scale(0.66 1)" text-anchor="middle" font-size="11.6" fill="#262626" font-weight="normal" font-family="Liberation Sans, Noto Sans CJK SC, sans-serif" >325000</text>
<text transform="translate(923.2 587.1) scale(0.66 1)" text-anchor="middle" font-size="11.6" fill="#262626" font-weight="normal" font-family="Liberation Sans, Noto Sans CJK SC, sans-serif" >585000</text>
<text transform="translate(968.0 587.1) scale(0.66 1)" text-anchor="middle" font-size="11.6" fill="#262626" font-weight="normal" font-family="Liberation Sans, Noto Sans CJK SC, sans-serif" >935000</text>
<text transform="translate(1012.9 587.1) scale(0.66 1)" text-anchor="middle" font-size="11.6" fill="#262626" font-weight="normal" font-family="Liberation Sans, Noto Sans CJK SC, sans-serif" >1370000</text>
<text transform="translate(1058.0 587.1) scale(0.66 1)" text-anchor="middle" font-size="11.6" fill="#262626" font-weight="normal" font-family="Liberation Sans, Noto Sans CJK SC, sans-serif" >1740000</text>
<text transform="translate(642.9 504.9) scale(0.8 1)" text-anchor="middle" font-size="9.6" fill="#262626" font-family="Liberation Sans, Noto Sans CJK SC, sans-serif">增长率</text>
<text transform="translate(624.2 529.3) scale(0.8 1)" text-anchor="middle" font-size="9.6" fill="#262626" font-family="Liberation Sans, Noto Sans CJK SC, sans-serif">销量</text>
<text transform="translate(624.2 561.8) scale(0.8 1)" text-anchor="middle" font-size="9.6" fill="#262626" font-family="Liberation Sans, Noto Sans CJK SC, sans-serif">比重</text>
<text transform="translate(658.9 521.2) scale(0.8 1)" text-anchor="middle" font-size="9.6" fill="#262626" font-family="Liberation Sans, Noto Sans CJK SC, sans-serif">商用车</text>
<text transform="translate(658.9 537.4) scale(0.8 1)" text-anchor="middle" font-size="9.6" fill="#262626" font-family="Liberation Sans, Noto Sans CJK SC, sans-serif">乘用车</text>
<text transform="translate(658.9 553.8) scale(0.8 1)" text-anchor="middle" font-size="9.6" fill="#262626" font-family="Liberation Sans, Noto Sans CJK SC, sans-serif">商用车</text>
<text transform="translate(658.9 570.2) scale(0.8 1)" text-anchor="middle" font-size="9.6" fill="#262626" font-family="Liberation Sans, Noto Sans CJK SC, sans-serif">乘用车</text>
<text transform="translate(642.9 586.4) scale(0.8 1)" text-anchor="middle" font-size="9.6" fill="#262626" font-family="Liberation Sans, Noto Sans CJK SC, sans-serif">合计</text>
</svg>

<div class="abs src" id="src">数据来源：艾瑞咨询《<span class="n">2016</span>年中国新能源汽车市场研究报告》</div>
<div class="abs src" id="src2">尼尔森《<span class="n">2017</span>年新能源市场洞察联合调研报告》</div>
</body>
</html>
